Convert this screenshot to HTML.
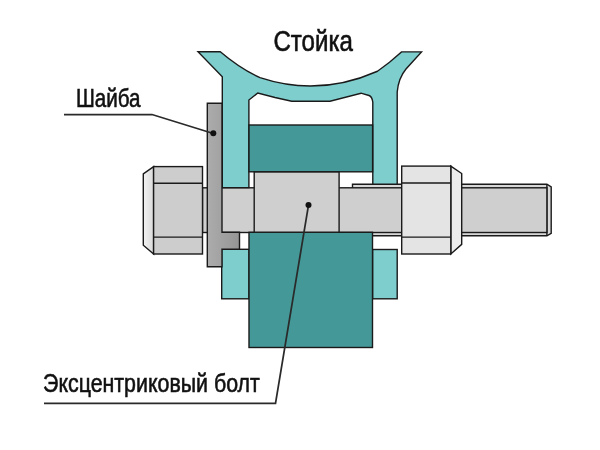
<!DOCTYPE html>
<html><head><meta charset="utf-8">
<style>
html,body{margin:0;padding:0;background:#fff;width:600px;height:450px;overflow:hidden}
svg{display:block;will-change:transform}
text{font-family:"Liberation Sans",sans-serif;fill:#111;stroke:#111;stroke-width:0.6px}
</style></head>
<body>
<svg width="600" height="450" viewBox="0 0 600 450">
<defs>
<linearGradient id="gw" x1="0" y1="0" x2="1" y2="0"><stop offset="0" stop-color="#acacac"/><stop offset="1" stop-color="#959595"/></linearGradient>
<linearGradient id="gh" x1="0" y1="0" x2="1" y2="0"><stop offset="0" stop-color="#f2f2f2"/><stop offset="1" stop-color="#dadada"/></linearGradient>
</defs>
<rect width="600" height="450" fill="#fff"/>
<g stroke="#1a1a1a" stroke-width="1.4" stroke-linejoin="miter">
<!-- threaded shaft outer (right) -->
<path d="M352.5,184.2 H546.9 L551.2,186.9 V233.3 L546.9,235.8 H352.5 Z" fill="#d8d8d8"/>
<line x1="546.9" y1="184.2" x2="546.9" y2="235.8"/>
<!-- main shaft -->
<rect x="202.5" y="187.8" width="344.4" height="44.7" fill="#cfcfcf"/>
<!-- stoika -->
<path d="M198,51.7 H220.3 Q239.8,68.3 260,77.7 Q318.75,97.2 377.5,71.25 L389.5,62.25 L401.5,51.9 H421.5 L406,69 Q398.5,78 397.2,92 V184.2 H372.8 V102 Q372,96.5 369,95.5 L361,93.2 L330,101.2 H291.7 L275,97.5 L257.8,93 L248.9,100 V187.6 H222.3 V76.8 Z" fill="#7ecece"/>
<!-- upper dark block -->
<rect x="249" y="125" width="123.6" height="46.8" fill="#449998"/>
<!-- lower light arms -->
<rect x="221.7" y="249.3" width="27.3" height="49.5" fill="#7ecece"/>
<rect x="372.6" y="249.5" width="24.6" height="49.3" fill="#7ecece"/>
<!-- lower dark block -->
<rect x="249" y="232.3" width="123.5" height="115.2" fill="#449998"/>
<!-- eccentric -->
<rect x="254.2" y="172" width="84.9" height="60.2" fill="#cfcfcf"/>
<!-- washer -->
<path d="M207.3,103.3 H222 V232.2 H239.5 V249.3 H222 V266.8 H207.3 Z" fill="url(#gw)"/>
<!-- head left -->
<path d="M143.3,173.9 L153.6,166.6 V254 L143.3,245.2 Z" fill="url(#gh)"/>
<rect x="153.6" y="166.6" width="48.9" height="87.4" fill="#cdcdcd"/>
<line x1="153.6" y1="183.3" x2="202.5" y2="183.3"/>
<line x1="153.6" y1="237.1" x2="202.5" y2="237.1"/>
<!-- right nut -->
<path d="M450.8,166.1 L461.7,173.5 V244.4 L450.8,254 Z" fill="#ececec"/>
<rect x="401.7" y="166.1" width="49.1" height="87.9" fill="#e4e4e4"/>
<line x1="401.7" y1="183" x2="450.8" y2="183"/>
<line x1="401.7" y1="237.1" x2="450.8" y2="237.1"/>
</g>
<!-- leaders -->
<g stroke="#2a2a2a" stroke-width="1.75" fill="none">
<polyline points="64,114.5 152,114.5 213.3,133.5"/>
<polyline points="44,403.4 275.5,403.4 308.5,205.1"/>
</g>
<circle cx="213.3" cy="133.3" r="3" fill="#111"/>
<circle cx="308.5" cy="205.1" r="3" fill="#111"/>
<text x="273.4" y="51.3" font-size="29" textLength="79.5" lengthAdjust="spacingAndGlyphs">Стойка</text>
<text x="75.9" y="107.4" font-size="25" textLength="64.6" lengthAdjust="spacingAndGlyphs">Шайба</text>
<text x="43.1" y="391.8" font-size="26.2" textLength="216.7" lengthAdjust="spacingAndGlyphs">Эксцентриковый болт</text>
</svg>
</body></html>
